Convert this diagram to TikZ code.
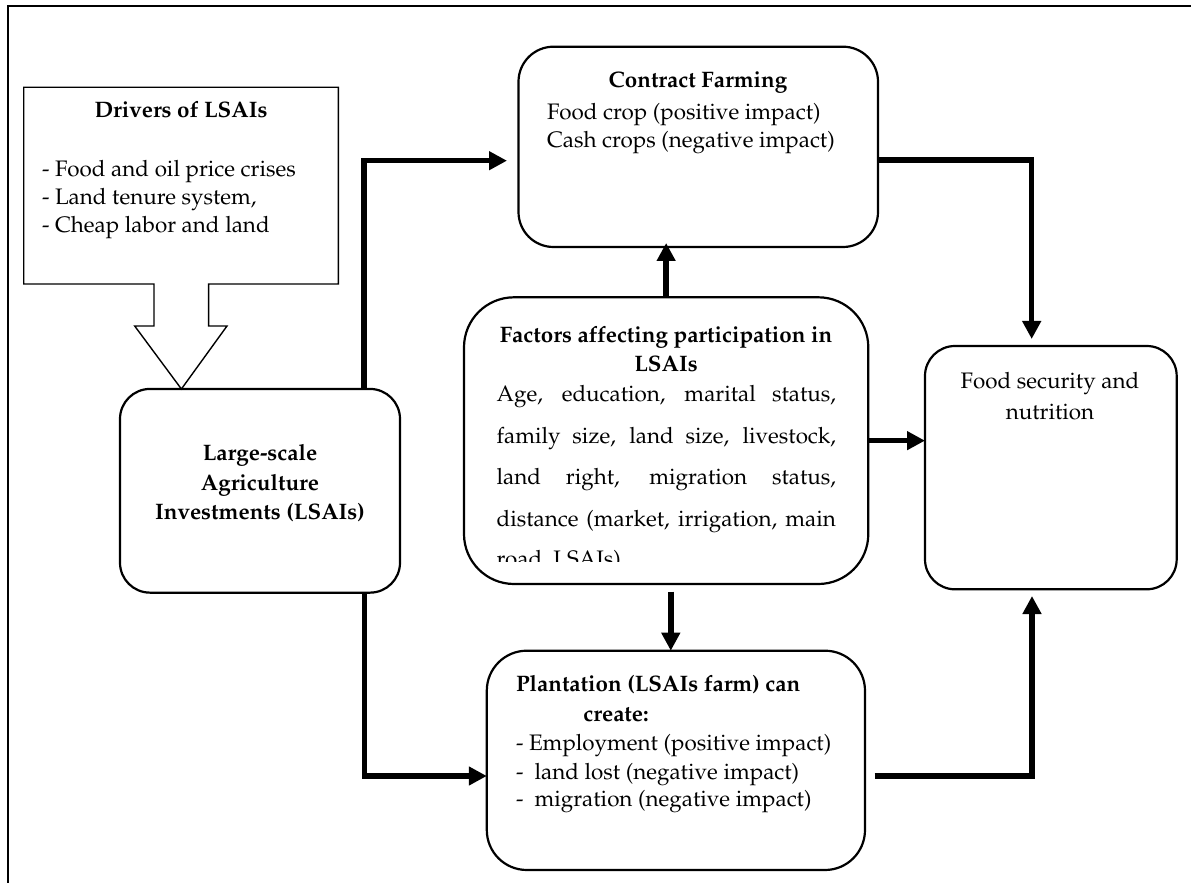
\documentclass[tikz,border=0pt]{standalone}
\usepackage[T1]{fontenc}
\usepackage{mathpazo}
\usetikzlibrary{arrows.meta,calc}
\begin{document}
\begin{tikzpicture}[x=0.5pt,y=-0.5pt,line join=miter]
\tikzset{
  box/.style={draw, line width=1.1pt, inner sep=0pt, outer sep=0pt},
  txt/.style={inner sep=0pt, outer sep=0pt, font=\fontsize{11.2}{14}\selectfont},
  btxt/.style={inner sep=0pt, outer sep=0pt, font=\fontsize{11.2}{14}\selectfont\bfseries},
  arr/.style={line width=2.75pt, -{Triangle[length=9pt,width=9pt]}}
}
\useasboundingbox (0,0) rectangle (1191,883);
% frame
\draw[line width=1pt] (8,883) -- (8,6) -- (1191,6);

% boxes
\node[inner sep=0pt, outer sep=0pt, minimum width=157.3pt, minimum height=98.35pt] (drv) at (181,185.65) {};
\draw[line width=0.7pt] (drv.north west) -- (drv.north east) -- (drv.south east) -- (208.6,284) -- (208.6,326) -- (227,326) -- (181.4,389) -- (134.7,326) -- (154,326) -- (154,284) -- (drv.south west) -- cycle;

\node[box, rounded corners=15pt, minimum width=140pt, minimum height=101.85pt] (lsai) at (260,490.8) {};
\node[box, rounded corners=17.5pt, minimum width=179.75pt, minimum height=100.15pt] (contract) at (698.25,146.85) {};
\node[box, rounded corners=25pt, minimum width=202.15pt, minimum height=143.35pt] (factors) at (666.15,440.65) {};
\node[box, rounded corners=15pt, minimum width=125.85pt, minimum height=121.65pt] (food) at (1050.85,467.65) {};
\node[box, rounded corners=20pt, minimum width=189.1pt, minimum height=109.65pt] (plant) at (675.9,760.35) {};

% texts: drivers
\node[btxt, anchor=base] (d0) at (181,118) {Drivers of LSAIs};
\node[txt, anchor=base west] (d1) at (42,176.7) {- Food and oil price crises};
\node[txt, anchor=base west] (d2) at (42,205) {- Land tenure system,};
\node[txt, anchor=base west] (d3) at (42,233) {- Cheap labor and land};

% lsai
\node[btxt, anchor=base] (l1) at (260,460.7) {Large-scale};
\node[btxt, anchor=base] (l2) at (260,490) {Agriculture};
\node[btxt, anchor=base] (l3) at (260,519.3) {Investments (LSAIs)};

% contract
\node[btxt, anchor=base] (c0) at (698,87.3) {Contract Farming};
\node[txt, anchor=base west] (c1) at (547,119.3) {Food crop (positive impact)};
\node[txt, anchor=base west] (c2) at (547,147.3) {Cash crops (negative impact)};

% factors
\node[btxt, anchor=base] (f0) at (666,342.7) {Factors affecting participation in};
\node[btxt, anchor=base] (f00) at (666,371.7) {LSAIs};
\node[txt, anchor=base west] (f1) at (496.7,401.7) {\makebox[169.65pt][s]{Age, education, marital status,}};
\node[txt, anchor=base west] (f2) at (496.7,443.3) {\makebox[169.65pt][s]{family size, land size, livestock,}};
\node[txt, anchor=base west] (f3) at (496.7,484) {\makebox[169.65pt][s]{land right, migration status,}};
\node[txt, anchor=base west] (f4) at (496.7,526.7) {\makebox[169.65pt][s]{distance (market, irrigation, main}};
\begin{scope}
\clip (464,297.3) rectangle (868.3,561.7);
\node[txt, anchor=base west] (f5) at (496.7,566.7) {road, LSAIs)};
\end{scope}

% food
\node[txt, anchor=base] (s1) at (1050,388.3) {Food security and};
\node[txt, anchor=base] (s2) at (1050,419.3) {nutrition};

% plantation
\node[btxt, anchor=base west] (p0) at (516,691.7) {Plantation (LSAIs farm) can};
\node[btxt, anchor=base west] (p1) at (583.4,721.7) {create:};
\node[txt, anchor=base west] (p2) at (516,750.7) {- Employment (positive impact)};
\node[txt, anchor=base west] (p3) at (516,779) {-\ \ land lost (negative impact)};
\node[txt, anchor=base west] (p4) at (516,806.7) {-\ \ migration (negative impact)};

% connectors
\coordinate (k1) at (364,160.7);
\draw[arr, shorten >=5.75pt] (lsai.north -| k1) -- (k1) -- (k1 -| contract.west);
\coordinate (k2) at (1031.7,160);
\draw[arr, shorten >=3.5pt] (contract.east |- k2) -- (k2) -- (k2 |- food.north);
\draw[arr, shorten >=-2pt] (factors.north) -- (factors.north |- contract.south);
\draw[arr] (factors.east) -- (factors.east -| food.west);
\coordinate (k5) at (670.8,600);
\draw[arr, shorten <=3.85pt] (factors.south -| k5) -- (plant.north -| k5);
\coordinate (k6) at (364.3,776);
\draw[arr] (lsai.south -| k6) -- (k6) -- (k6 -| plant.west);
\coordinate (k7) at (1032,776);
\draw[arr, shorten <=4.85pt, shorten >=3.35pt] (plant.east |- k7) -- (k7) -- (k7 |- food.south);
\end{tikzpicture}
\end{document}
